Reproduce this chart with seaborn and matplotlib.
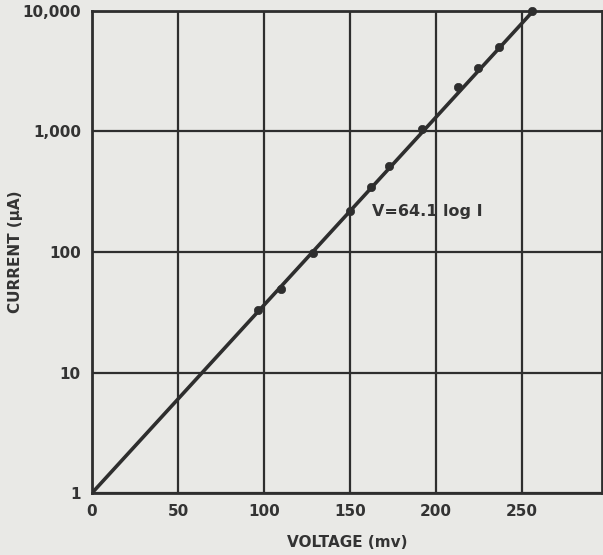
import numpy as np
import pandas as pd
import seaborn as sns
import matplotlib
matplotlib.use("Agg")
import matplotlib.pyplot as plt
from matplotlib.ticker import FixedLocator, FixedFormatter, NullLocator

# Measured points
voltage_mv = [96.7, 109.9, 128.3, 150.0, 162.0, 172.9, 192.0, 213.0, 224.6, 236.6, 255.8]
current_ua = [33, 49, 99, 220, 348, 520, 1043, 2355, 3390, 5060, 10000]

# Fitted relation V = 64.1 log I
slope = 64.1
fit_current = [1, 10000]
fit_voltage = [slope * np.log10(c) for c in fit_current]

x_ticks = [0, 50, 100, 150, 200, 250]
x_tick_labels = ["0", "50", "100", "150", "200", "250"]
y_ticks = [1, 10, 100, 1000, 10000]
y_tick_labels = ["1", "10", "100", "1,000", "10,000"]

bg = "#e9e9e6"
ink = "#2e2e2e"
txt = "#333333"

sns.set_theme(style="white")
plt.rcParams["font.family"] = ["DejaVu Sans"]

fig = plt.figure(figsize=(6.03, 5.55), dpi=100, facecolor=bg)
ax = fig.add_axes([0.1526, 0.1117, 0.846, 0.8685])
ax.set_facecolor(bg)

pts = pd.DataFrame({"voltage": voltage_mv, "current": current_ua})
fit = pd.DataFrame({"voltage": fit_voltage, "current": fit_current})

ax.set_yscale("log")
sns.lineplot(data=fit, x="voltage", y="current", ax=ax, color=ink, linewidth=2.6, zorder=3)
sns.scatterplot(data=pts, x="voltage", y="current", ax=ax, color=ink, s=36,
                edgecolor=ink, linewidth=0.5, zorder=4, clip_on=False)

ax.set_xlim(0, 296.5)
ax.set_ylim(1, 10000)

ax.xaxis.set_major_locator(FixedLocator(x_ticks))
ax.xaxis.set_major_formatter(FixedFormatter(x_tick_labels))
ax.yaxis.set_major_locator(FixedLocator(y_ticks))
ax.yaxis.set_major_formatter(FixedFormatter(y_tick_labels))
ax.yaxis.set_minor_locator(NullLocator())
ax.xaxis.set_minor_locator(NullLocator())

ax.grid(True, color=ink, linewidth=1.6)
ax.set_axisbelow(True)
for sp in ax.spines.values():
    sp.set_color(ink)
    sp.set_linewidth(2.0)
    sp.set_visible(True)

ax.tick_params(axis="both", length=0, pad=8, labelsize=11, colors=txt)
for lab in ax.get_xticklabels() + ax.get_yticklabels():
    lab.set_fontweight("bold")

ax.set_xlabel("VOLTAGE (mv)", fontsize=11, fontweight="bold", color=txt)
ax.set_ylabel("CURRENT (\u03bcA)", fontsize=11, fontweight="bold", color=txt)
ax.xaxis.set_label_coords(0.5, -0.088)
ax.yaxis.set_label_coords(-0.135, 0.5)

ax.text(163, 215, "V=64.1 log I", fontsize=11.5, fontweight="bold", color=txt,
        ha="left", va="center", zorder=5)

fig.savefig("out.png", dpi=100, facecolor=bg)
